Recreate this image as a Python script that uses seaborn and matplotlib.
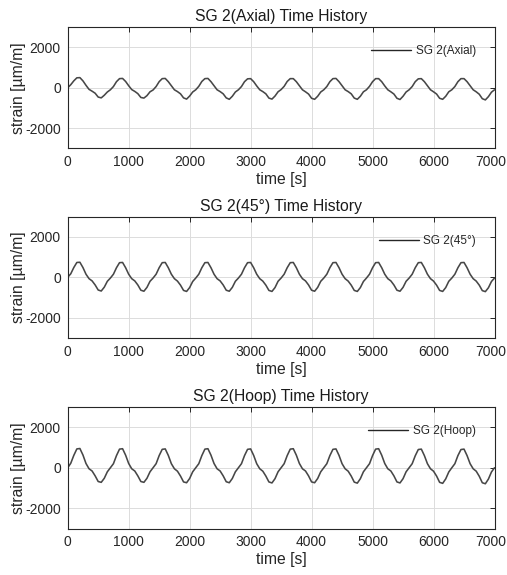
import numpy as np
import pandas as pd
import matplotlib
matplotlib.use("Agg")
import matplotlib.pyplot as plt
import matplotlib.transforms as mtransforms
import seaborn as sns

# sampling times [s]
time_s = list(range(0, 7001, 50))

axial = [
    0, 150, 340, 490, 500, 340, 120, -80, -170, -270, -460, -500, -370, -210,
    -100, 60, 300, 450, 460, 310, 100, -90, -180, -290, -480, -510, -390, -200,
    -110, 60, 300, 450, 460, 300, 100, -100, -190, -300, -500, -560, -410, -210,
    -100, 70, 310, 450, 460, 300, 100, -100, -190, -300, -500, -570, -420, -210,
    -100, 60, 300, 440, 450, 300, 90, -100, -190, -300, -510, -560, -410, -200,
    -90, 70, 310, 450, 450, 300, 100, -100, -200, -310, -520, -570, -420, -210,
    -100, 60, 300, 450, 460, 300, 100, -100, -190, -300, -510, -570, -420, -200,
    -100, 70, 300, 450, 450, 300, 90, -100, -200, -310, -520, -580, -420, -210,
    -100, 60, 300, 440, 450, 300, 100, -100, -200, -310, -520, -570, -420, -200,
    -100, 60, 300, 450, 450, 300, 100, -100, -200, -320, -540, -600, -440, -220,
    -100,
]

deg45 = [
    0, 170, 480, 730, 740, 480, 150, -70, -180, -380, -630, -680, -490, -200,
    -40, 150, 470, 720, 730, 470, 150, -70, -180, -380, -640, -690, -500, -200,
    -40, 150, 470, 720, 730, 470, 150, -70, -190, -390, -650, -700, -510, -210,
    -40, 150, 470, 720, 730, 470, 150, -70, -180, -380, -640, -690, -500, -200,
    -40, 150, 470, 720, 730, 470, 150, -70, -190, -390, -650, -700, -510, -200,
    -40, 150, 470, 720, 730, 470, 150, -70, -180, -380, -640, -690, -500, -200,
    -40, 150, 470, 720, 730, 470, 150, -70, -190, -390, -650, -700, -510, -210,
    -40, 150, 470, 720, 730, 470, 150, -70, -180, -380, -640, -690, -500, -200,
    -40, 150, 470, 720, 730, 470, 150, -70, -190, -390, -650, -700, -510, -200,
    -40, 150, 470, 720, 730, 470, 150, -70, -190, -390, -660, -710, -520, -210,
    -40,
]

hoop = [
    0, 220, 610, 930, 950, 630, 210, -50, -160, -400, -680, -720, -520, -200,
    0, 200, 600, 920, 940, 620, 210, -50, -160, -400, -680, -720, -520, -200,
    0, 200, 600, 910, 930, 610, 200, -50, -170, -410, -700, -740, -530, -200,
    0, 200, 600, 920, 940, 620, 210, -50, -160, -400, -690, -740, -530, -200,
    0, 200, 600, 910, 930, 610, 200, -50, -170, -410, -700, -750, -540, -200,
    0, 200, 600, 920, 940, 620, 210, -50, -160, -400, -700, -740, -530, -200,
    0, 200, 600, 910, 930, 610, 200, -50, -170, -410, -710, -760, -540, -200,
    0, 200, 600, 920, 940, 620, 210, -50, -160, -400, -700, -750, -540, -200,
    0, 200, 590, 900, 920, 600, 200, -50, -170, -410, -720, -770, -550, -210,
    0, 200, 600, 900, 920, 600, 200, -50, -170, -420, -740, -790, -560, -210,
    0,
]

titles = ["SG 2(Axial) Time History", "SG 2(45\u00b0) Time History", "SG 2(Hoop) Time History"]
labels = ["SG 2(Axial)", "SG 2(45\u00b0)", "SG 2(Hoop)"]
series = [axial, deg45, hoop]
x_ticks = [0, 1000, 2000, 3000, 4000, 5000, 6000, 7000]
y_ticks = [-2000, 0, 2000]

sns.set_theme(style="white")
plt.rcParams['font.family'] = ['Liberation Sans', 'DejaVu Sans']
plt.rcParams['axes.unicode_minus'] = False

fig = plt.figure(figsize=(5.07, 5.75), dpi=100)
W, H = 507.0, 575.0
left_px, right_px = 67.7, 494.5
tops_px = [27.0, 216.5, 407.0]
h_px = 121.5

for i in range(3):
    top = tops_px[i]
    ax = fig.add_axes([left_px / W, 1 - (top + h_px) / H, (right_px - left_px) / W, h_px / H])
    df = pd.DataFrame({"time": time_s, "strain": series[i]})
    sns.lineplot(data=df, x="time", y="strain", ax=ax, color="#474747", linewidth=1.15,
                 label=labels[i])
    ax.set_xlim(0, 7000)
    ax.set_ylim(-3000, 3000)
    ax.set_xticks(x_ticks)
    ax.set_yticks(y_ticks)
    ax.grid(True, color="#dcdcdc", linewidth=0.7)
    ax.set_axisbelow(True)
    for sp in ax.spines.values():
        sp.set_visible(True)
        sp.set_color("#262626")
        sp.set_linewidth(0.8)
    ax.tick_params(direction="in", length=3.5, width=0.7, colors="#262626",
                   top=True, right=True, labelsize=10, pad=5)
    ax.set_xlabel("time [s]", fontsize=11.3, color="#262626", labelpad=2)
    ax.set_ylabel("strain [\u00b5m/m]", fontsize=11.3, color="#262626", labelpad=-1)
    ax.set_title(titles[i], fontsize=11.3, color="#1a1a1a", pad=4)
    # keep the last x tick label inside the figure
    last = ax.get_xticklabels()[-1]
    last.set_transform(last.get_transform() +
                       mtransforms.ScaledTranslation(-4 / 100, 0, fig.dpi_scale_trans))
    leg = ax.legend(loc="center right", bbox_to_anchor=(0.957, 0.80), frameon=False,
                    fontsize=8.5, handlelength=3.4, handletextpad=0.4,
                    borderaxespad=0, borderpad=0)
    for t in leg.get_texts():
        t.set_color("#262626")
    for l in leg.get_lines():
        l.set_color("#262626")
        l.set_linewidth(1.0)

fig.savefig("out.png", dpi=100)
